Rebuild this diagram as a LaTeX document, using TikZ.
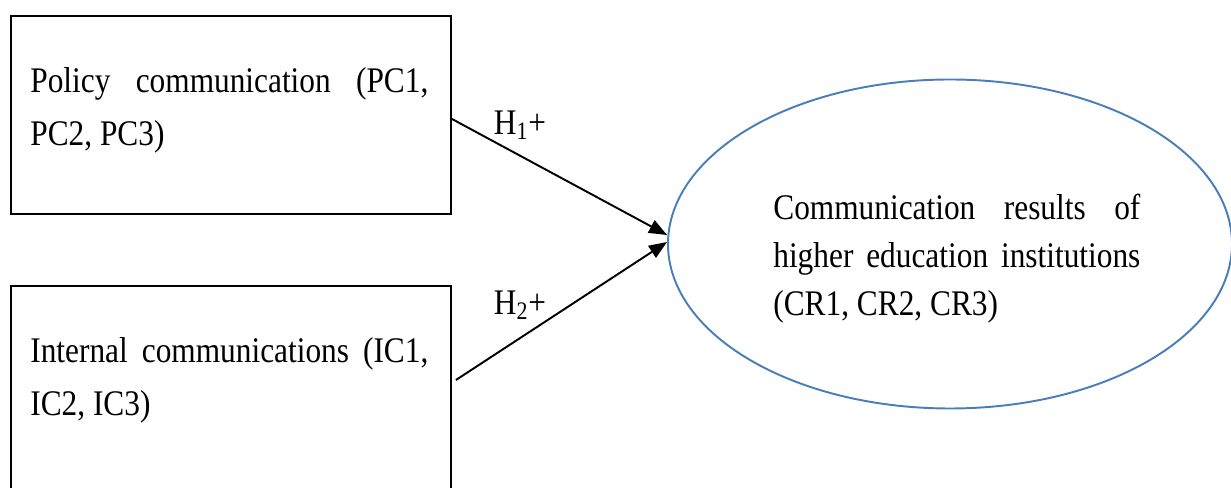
\documentclass[tikz,border=0pt]{standalone}
\usepackage{fontspec}
\setmainfont[FakeStretch=0.87]{Liberation Serif}
\usetikzlibrary{arrows.meta,positioning,shapes.geometric}
\definecolor{resultblue}{RGB}{74,126,187}

\begin{document}
\begin{tikzpicture}[
    font=\fontsize{20.5}{30.2}\selectfont,
    box/.style={draw, line width=1.1pt, minimum width=8.8cm, inner sep=0pt},
    boxtext/.style={text width=7.96cm, align=justify, inner sep=0pt},
    result/.style={draw=resultblue, ellipse, line width=1.1pt, minimum width=11.28cm, minimum height=6.58cm, inner sep=0pt},
    crtext/.style={text width=7.34cm, align=justify, inner sep=0pt, font=\fontsize{20.5}{27.3}\selectfont},
    hyp/.style={inner sep=0pt},
    line/.style={-{Triangle[length=0.36cm, width=0.28cm]}, line width=1.1pt}
]
    \useasboundingbox (0,0) rectangle (24.62,9.76);

    \node[box, minimum height=3.96cm, anchor=north west] (pc) at (0.2,9.46) {};
    \node[box, minimum height=5cm, anchor=north west] (ic) at (0.2,4.06) {};
    \node[result] (cr) at (19.0,4.88) {};

    \node[boxtext, below right=1.04cm and 0.4cm of pc.north west] (pctext) {Policy communication (PC1, PC2, PC3)};
    \node[boxtext, below right=1.04cm and 0.4cm of ic.north west] (ictext) {Internal communications (IC1, IC2, IC3)};
    \node[crtext, anchor=north west] (crtext) at ([shift={(-3.54,1.0)}]cr.center) {Communication results of higher education institutions (CR1, CR2, CR3)};

    \node[hyp] (h1) at (10.4,7.26) {H\textsubscript{1}+};
    \node[hyp] (h2) at (10.4,3.66) {H\textsubscript{2}+};

    \draw[line] ([yshift=-0.08cm]pc.east) -- ([yshift=0.18cm]cr.west);
    \draw[line] ([shift={(0.08,-1.9)}]ic.north east) -- ([yshift=0.04cm]cr.west);
\end{tikzpicture}
\end{document}
